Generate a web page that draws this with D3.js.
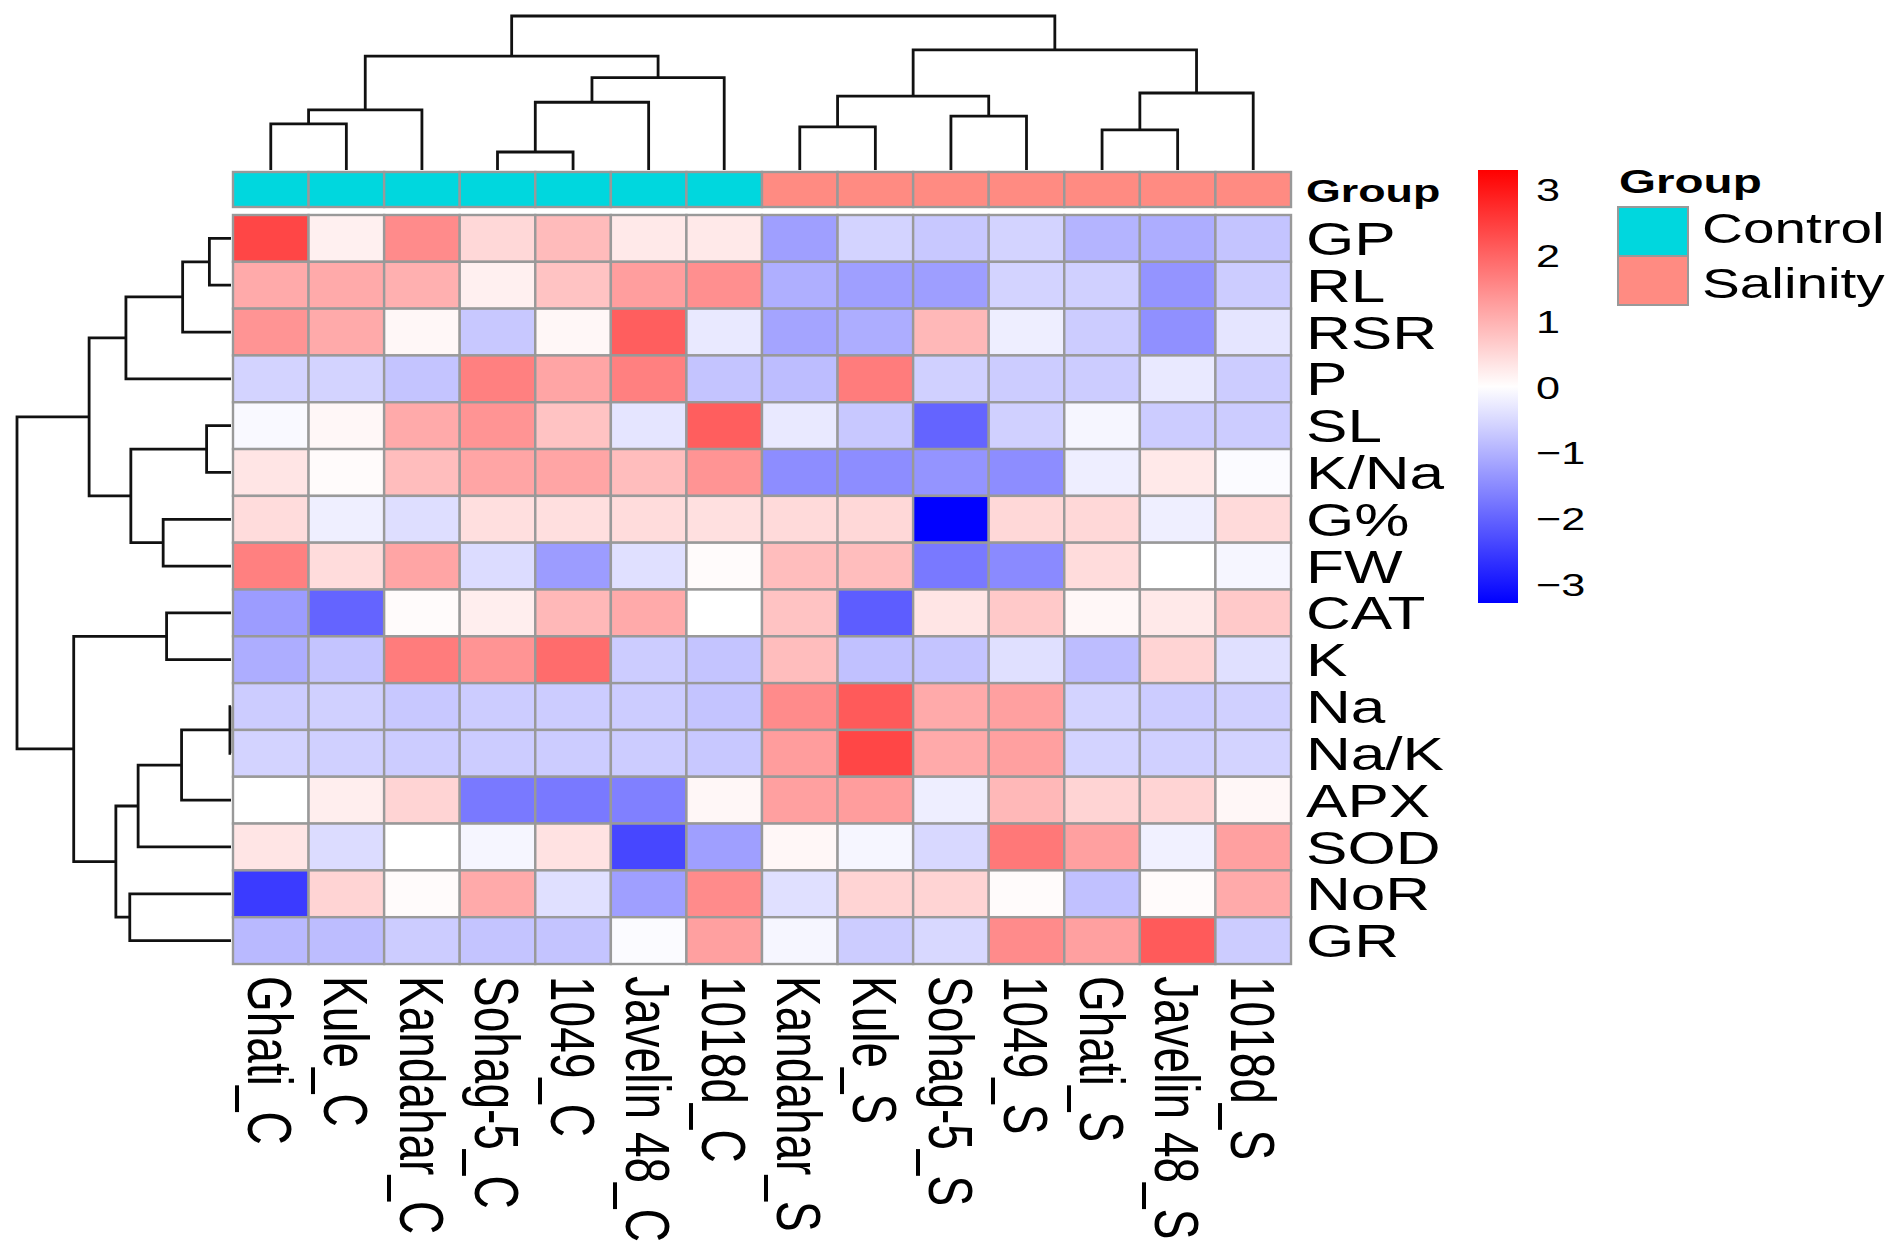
<!DOCTYPE html>
<html><head><meta charset="utf-8">
<script src="https://cdn.jsdelivr.net/npm/d3@7/dist/d3.min.js"></script>
<style>html,body{margin:0;padding:0;background:#fff;}svg{display:block;}text{font-family:"Liberation Sans",Arial,Helvetica,sans-serif;fill:#000;}</style>
</head><body>
<script>
const rowLabels = ["GP","RL","RSR","P","SL","K/Na","G%","FW","CAT","K","Na","Na/K","APX","SOD","NoR","GR"];
const colLabels = ["Ghati_C","Kule_C","Kandahar_C","Sohag-5_C","1049_C","Javelin 48_C","1018d_C","Kandahar_S","Kule_S","Sohag-5_S","1049_S","Ghati_S","Javelin 48_S","1018d_S"];
const colGroups = ["Control","Control","Control","Control","Control","Control","Control","Salinity","Salinity","Salinity","Salinity","Salinity","Salinity","Salinity"];
const groupLevels = ["Control","Salinity"];
const groupColors = ["#00D7DE","#FF8B82"];

const vGP   = [2.40,0.20,1.50,0.50,0.88,0.28,0.28,-1.23,-0.56,-0.71,-0.56,-0.97,-1.05,-0.76];
const vRL   = [1.10,1.10,1.02,0.20,0.78,1.25,1.45,-1.03,-1.23,-1.25,-0.56,-0.60,-1.38,-0.66];
const vRSR  = [1.38,1.10,0.10,-0.71,0.10,2.08,-0.28,-1.17,-1.06,0.92,-0.22,-0.66,-1.43,-0.34];
const vP    = [-0.56,-0.56,-0.76,1.64,1.17,1.64,-0.76,-0.85,1.70,-0.60,-0.66,-0.66,-0.28,-0.66];
const vSL   = [-0.08,0.10,1.10,1.38,0.78,-0.34,2.08,-0.28,-0.71,-2.00,-0.60,-0.12,-0.66,-0.66];
const vKNa  = [0.34,0.05,0.85,1.17,1.17,0.85,1.38,-1.47,-1.47,-1.38,-1.47,-0.22,0.28,-0.05];
const vGpct = [0.45,-0.20,-0.42,0.42,0.42,0.45,0.40,0.48,0.50,-3.27,0.50,0.50,-0.20,0.48];
const vFW   = [1.64,0.45,1.17,-0.45,-1.27,-0.40,0.05,0.85,0.85,-1.73,-1.50,0.45,0.00,-0.12];
const vCAT  = [-1.27,-2.00,0.05,0.22,0.92,1.10,0.00,0.78,-2.08,0.34,0.70,0.10,0.28,0.70];
const vK    = [-1.05,-0.76,1.70,1.38,1.90,-0.66,-0.76,0.85,-0.80,-0.76,-0.40,-0.85,0.56,-0.40];
const vNa   = [-0.66,-0.60,-0.71,-0.66,-0.66,-0.66,-0.76,1.50,2.13,1.10,1.23,-0.56,-0.66,-0.60];
const vNaK  = [-0.56,-0.60,-0.66,-0.66,-0.66,-0.66,-0.71,1.27,2.40,1.10,1.23,-0.56,-0.60,-0.56];
const vAPX  = [0.00,0.22,0.56,-1.73,-1.73,-1.64,0.10,1.23,1.27,-0.22,0.92,0.56,0.56,0.10];
const vSOD  = [0.34,-0.45,0.00,-0.12,0.38,-2.37,-1.23,0.10,-0.12,-0.50,1.75,1.23,-0.18,1.23];
const vNoR  = [-2.52,0.56,0.05,1.10,-0.40,-1.23,1.50,-0.40,0.56,0.56,0.05,-0.80,0.05,1.10];
const vGR   = [-0.90,-0.85,-0.66,-0.76,-0.76,-0.05,1.23,-0.12,-0.66,-0.50,1.50,1.23,2.13,-0.66];
const values = [vGP,vRL,vRSR,vP,vSL,vKNa,vGpct,vFW,vCAT,vK,vNa,vNaK,vAPX,vSOD,vNoR,vGR];

// hclust-style merges: negative = leaf (1-based), positive = earlier merge (1-based); third = height
const colMerge = [[-1,-2,3.0],[-4,-5,1.17],[-8,-9,2.8],[-12,-13,2.6],[-10,-11,3.5],[1,-3,3.9],[2,-6,4.4],[3,5,4.8],[4,-14,5.0],[7,-7,6.0],[6,10,7.4],[8,9,7.8],[11,12,10]];
const rowMerge = [[-11,-12,0.05],[-1,-2,1.01],[-5,-6,1.14],[1,-13,2.31],[2,-3,2.26],[-9,-10,3.01],[-7,-8,3.17],[4,-14,4.34],[3,7,4.68],[-15,-16,4.73],[5,-4,4.91],[8,10,5.38],[11,9,6.63],[6,12,7.35],[13,14,10]];

const legendTicks = [3,2,1,0,-1,-2,-3];
const colorDomain = [-3.28,0,3.3];

const W = 1901, H = 1258, SX = 1.35;
const svg = d3.select("body").append("svg").attr("width",W).attr("height",H);

const x = d3.scaleBand().domain(d3.range(colLabels.length)).range([233,1291]).padding(0);
const y = d3.scaleBand().domain(d3.range(rowLabels.length)).range([215,964]).padding(0);
const color = d3.scaleLinear().domain(colorDomain).range(["#0000FF","#FFFFFF","#FF0000"]);
const grp = d3.scaleOrdinal().domain(groupLevels).range(groupColors);

// heatmap cells
const cells = [];
values.forEach((row,i)=>row.forEach((v,j)=>cells.push({i,j,v})));
svg.append("g").selectAll("rect").data(cells).join("rect")
  .attr("x",d=>x(d.j)).attr("y",d=>y(d.i))
  .attr("width",x.bandwidth()).attr("height",y.bandwidth())
  .attr("fill",d=>color(d.v)).attr("stroke","#999").attr("stroke-width",2.4);

// annotation bar
svg.append("g").selectAll("rect").data(colGroups).join("rect")
  .attr("x",(d,j)=>x(j)).attr("y",172).attr("width",x.bandwidth()).attr("height",35)
  .attr("fill",d=>grp(d)).attr("stroke","#999").attr("stroke-width",2.4);

// dendrograms
function drawDendro(merge, leafPos, hScale, orient){
  const nodes = [];
  const get = id => id<0 ? {p:leafPos(-id-1),h:0} : nodes[id-1];
  const g = svg.append("g").attr("fill","none").attr("stroke","#111").attr("stroke-width",2.8);
  merge.forEach(m=>{
    const a=get(m[0]), b=get(m[1]), h=m[2];
    nodes.push({p:(a.p+b.p)/2,h});
    let pts;
    if(orient==="top") pts=[[a.p,hScale(a.h)],[a.p,hScale(h)],[b.p,hScale(h)],[b.p,hScale(b.h)]];
    else pts=[[hScale(a.h),a.p],[hScale(h),a.p],[hScale(h),b.p],[hScale(b.h),b.p]];
    g.append("path").attr("d",d3.line()(pts));
  });
}
drawDendro(colMerge, j=>x(j)+x.bandwidth()/2, d3.scaleLinear().domain([0,10]).range([170,16]), "top");
drawDendro(rowMerge, i=>y(i)+y.bandwidth()/2, d3.scaleLinear().domain([0,10]).range([231,17]), "left");

// row labels
svg.append("g").selectAll("text").data(rowLabels).join("text")
  .attr("transform",(d,i)=>`translate(1306,${y(i)+y.bandwidth()/2}) scale(${SX},1)`)
  .attr("dy","0.36em").attr("font-size",46).text(d=>d);

// column labels
svg.append("g").selectAll("text").data(colLabels).join("text")
  .attr("transform",(d,j)=>`translate(${x(j)+x.bandwidth()/2},976) scale(${SX},1) rotate(90)`)
  .attr("dy","0.36em").attr("font-size",46).text(d=>d);

// annotation name
svg.append("text").attr("transform",`translate(1306,190) scale(${SX+0.05},1)`)
  .attr("dy","0.36em").attr("font-size",32).attr("font-weight","bold").text("Group");

// color legend
const defs = svg.append("defs");
const grad = defs.append("linearGradient").attr("id","lg").attr("x1",0).attr("y1",1).attr("x2",0).attr("y2",0);
const ly = d3.scaleLinear().domain([colorDomain[0],colorDomain[2]]).range([603,170]);
d3.range(0,1.0001,0.05).forEach(t=>{
  const v = colorDomain[0]+t*(colorDomain[2]-colorDomain[0]);
  grad.append("stop").attr("offset",t).attr("stop-color",color(v));
});
svg.append("rect").attr("x",1478).attr("y",170).attr("width",40).attr("height",433).attr("fill","url(#lg)");
svg.append("g").selectAll("text").data(legendTicks).join("text")
  .attr("transform",d=>`translate(1536,${ly(d)}) scale(${SX},1)`)
  .attr("dy","0.36em").attr("font-size",32)
  .text(d=>d<0?"\u2212"+Math.abs(d):String(d));

// group legend
svg.append("text").attr("transform",`translate(1619,181) scale(${SX+0.05},1)`)
  .attr("dy","0.36em").attr("font-size",34).attr("font-weight","bold").text("Group");
svg.append("g").selectAll("rect").data(groupLevels).join("rect")
  .attr("x",1618).attr("y",(d,i)=>207+i*49).attr("width",70).attr("height",49)
  .attr("fill",d=>grp(d)).attr("stroke","#999").attr("stroke-width",2);
svg.append("g").selectAll("text").data(groupLevels).join("text")
  .attr("transform",(d,i)=>`translate(1702,${228+i*55}) scale(${SX},1)`)
  .attr("dy","0.36em").attr("font-size",42).text(d=>d);
</script>
</body></html>
